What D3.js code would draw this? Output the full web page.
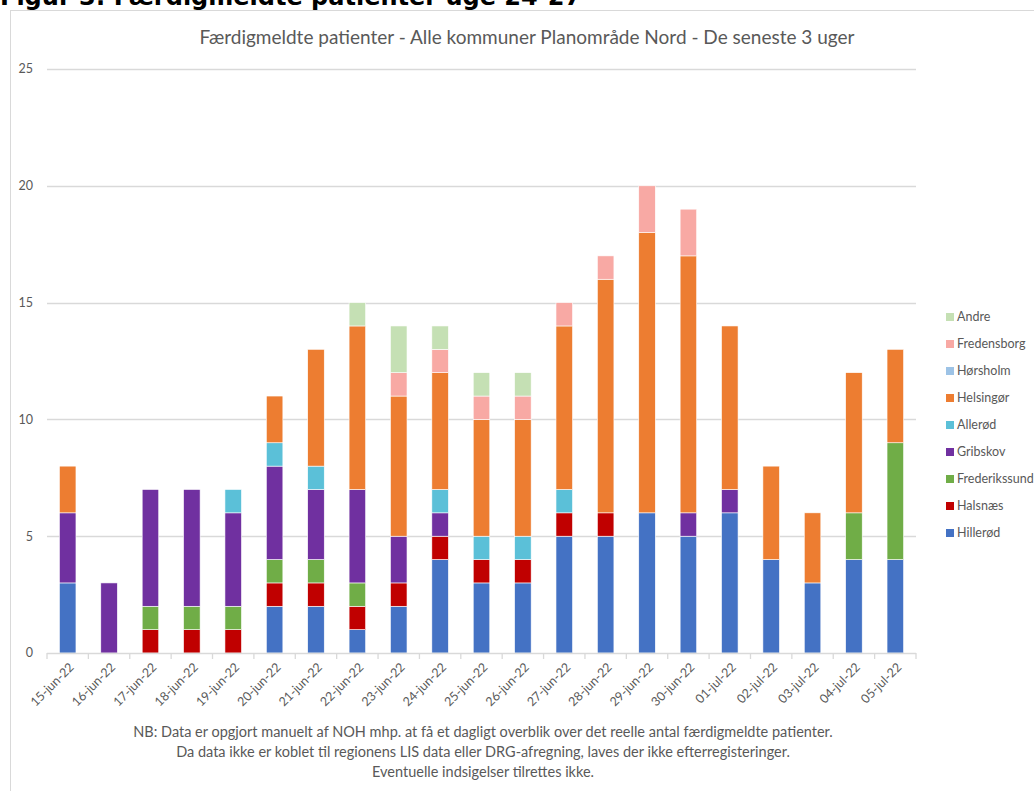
<!DOCTYPE html>
<html>
<head>
<meta charset="utf-8">
<script src="https://cdn.jsdelivr.net/npm/d3@7"></script>
<style>
  body { margin: 0; background: #fff; }
  svg { display: block; font-family: Lato, "Open Sans", sans-serif; }
</style>
</head>
<body>
<svg id="chart" width="1034" height="791"></svg>
<script>
const dates = ["15-jun-22","16-jun-22","17-jun-22","18-jun-22","19-jun-22","20-jun-22","21-jun-22",
  "22-jun-22","23-jun-22","24-jun-22","25-jun-22","26-jun-22","27-jun-22","28-jun-22","29-jun-22",
  "30-jun-22","01-jul-22","02-jul-22","03-jul-22","04-jul-22","05-jul-22"];

// series bottom -> top
const seriesNames = ["Hillerød","Halsnæs","Frederikssund","Gribskov","Allerød","Helsingør","Hørsholm","Fredensborg","Andre"];
const seriesColors = ["#4472c4","#c00000","#70ad47","#7030a0","#5bc0d8","#ed7d31","#9dc3e6","#f8a9a4","#c5e0b4"];

const hillerod      = [3,0,0,0,0,2,2,1,2,4,3,3,5,5,6,5,6,4,3,4,4];
const halsnaes      = [0,0,1,1,1,1,1,1,1,1,1,1,1,1,0,0,0,0,0,0,0];
const frederikssund = [0,0,1,1,1,1,1,1,0,0,0,0,0,0,0,0,0,0,0,2,5];
const gribskov      = [3,3,5,5,4,4,3,4,2,1,0,0,0,0,0,1,1,0,0,0,0];
const allerod       = [0,0,0,0,1,1,1,0,0,1,1,1,1,0,0,0,0,0,0,0,0];
const helsingor     = [2,0,0,0,0,2,5,7,6,5,5,5,7,10,12,11,7,4,3,6,4];
const horsholm      = [0,0,0,0,0,0,0,0,0,0,0,0,0,0,0,0,0,0,0,0,0];
const fredensborg   = [0,0,0,0,0,0,0,0,1,1,1,1,1,1,2,2,0,0,0,0,0];
const andre         = [0,0,0,0,0,0,0,1,2,1,1,1,0,0,0,0,0,0,0,0,0];

const yTicks = [0,5,10,15,20,25];

const seriesValues = [hillerod,halsnaes,frederikssund,gribskov,allerod,helsingor,horsholm,fredensborg,andre];
const table = dates.map((d, i) => {
  const row = {date: d};
  seriesNames.forEach((s, j) => row[s] = seriesValues[j][i]);
  return row;
});

const svg = d3.select("#chart");

// figure heading (cut off at the top in the source)
svg.append("text")
  .attr("x", 0).attr("y", 5)
  .style("font-family", "'DejaVu Sans', sans-serif")
  .style("font-weight", "bold")
  .style("font-size", "24px")
  .attr("fill", "#000")
  .text("Figur 3: Færdigmeldte patienter uge 24-27");

// chart frame
svg.append("rect")
  .attr("x", 10.5).attr("y", 10.5)
  .attr("width", 1040).attr("height", 800)
  .attr("fill", "#fff")
  .attr("stroke", "#d9d9d9");

const margin = {left: 47, right: 118, top: 69, bottom: 138};
const plotW = 1034 - margin.left - margin.right;
const plotH = 791 - margin.top - margin.bottom;

const x = d3.scaleBand().domain(dates).range([0, plotW]).paddingInner(0.6).paddingOuter(0.3);
const y = d3.scaleLinear().domain([0, 25]).range([plotH, 0]);

const g = svg.append("g").attr("transform", `translate(${margin.left},${margin.top})`);

// title
svg.append("text")
  .attr("x", 527).attr("y", 44)
  .attr("text-anchor", "middle")
  .attr("fill", "#595959")
  .style("font-size", "19px")
  .text("Færdigmeldte patienter - Alle kommuner Planområde Nord - De seneste 3 uger");

// gridlines
g.append("g")
  .selectAll("line")
  .data(yTicks.filter(t => t > 0))
  .join("line")
  .attr("x1", 0).attr("x2", plotW)
  .attr("y1", d => Math.round(y(d)) + 0.5).attr("y2", d => Math.round(y(d)) + 0.5)
  .attr("stroke", "#d9d9d9").attr("stroke-width", 1.3);

// y labels
g.append("g")
  .selectAll("text")
  .data(yTicks)
  .join("text")
  .attr("x", -14).attr("y", d => y(d))
  .attr("dy", "0.35em")
  .attr("text-anchor", "end")
  .attr("fill", "#595959")
  .style("font-size", "12.5px")
  .text(d => d);

// stacked bars
const stack = d3.stack().keys(seriesNames)(table);
const color = d3.scaleOrdinal().domain(seriesNames).range(seriesColors);

g.append("g")
  .selectAll("g")
  .data(stack)
  .join("g")
  .attr("fill", d => color(d.key))
  .selectAll("rect")
  .data(d => d.filter(p => p[1] > p[0]))
  .join("rect")
  .attr("x", d => x(d.data.date))
  .attr("width", x.bandwidth())
  .attr("y", d => y(d[1]))
  .attr("height", d => y(d[0]) - y(d[1]))
  .attr("stroke", "#fff")
  .attr("stroke-width", 0.6);

// x axis
const step = x.step();
const xAxis = g.append("g").attr("transform", `translate(0,${plotH})`);
xAxis.append("line")
  .attr("x1", 0).attr("x2", plotW)
  .attr("y1", 0.5).attr("y2", 0.5)
  .attr("stroke", "#d9d9d9").attr("stroke-width", 1.3);
xAxis.selectAll("line.tick")
  .data(d3.range(dates.length + 1))
  .join("line")
  .attr("class", "tick")
  .attr("x1", i => i * step).attr("x2", i => i * step)
  .attr("y1", 0).attr("y2", 6)
  .attr("stroke", "#d9d9d9").attr("stroke-width", 1.3);
xAxis.selectAll("text")
  .data(dates)
  .join("text")
  .attr("transform", d => `translate(${x(d) + x.bandwidth() / 2 + 7},${15}) rotate(-45)`)
  .attr("text-anchor", "end")
  .attr("fill", "#595959")
  .style("font-size", "12.5px")
  .text(d => d);

// legend
const legend = svg.append("g").attr("transform", "translate(946,317)");
const legendOrder = seriesNames.slice().reverse();
const li = legend.selectAll("g")
  .data(legendOrder)
  .join("g")
  .attr("transform", (d, i) => `translate(0,${i * 27})`);
li.append("rect")
  .attr("x", 0).attr("y", -4)
  .attr("width", 8).attr("height", 8)
  .attr("fill", d => color(d));
li.append("text")
  .attr("x", 11).attr("y", 0).attr("dy", "0.35em")
  .attr("fill", "#595959")
  .style("font-size", "12.5px")
  .text(d => d);

// footnote
const notes = [
  "NB: Data er opgjort manuelt af NOH mhp. at få et dagligt overblik over det reelle antal færdigmeldte patienter.",
  "Da data ikke er koblet til regionens LIS data eller DRG-afregning, laves der ikke efterregisteringer.",
  "Eventuelle indsigelser tilrettes ikke."
];
svg.append("g")
  .selectAll("text")
  .data(notes)
  .join("text")
  .attr("x", 483)
  .attr("y", (d, i) => 737 + i * 20)
  .attr("text-anchor", "middle")
  .attr("fill", "#595959")
  .style("font-size", "14.5px")
  .text(d => d);
</script>
</body>
</html>
